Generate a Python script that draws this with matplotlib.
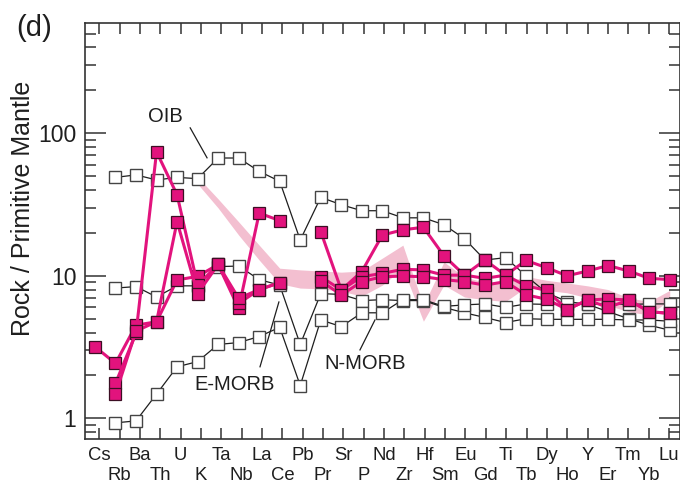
import numpy as np
import matplotlib
matplotlib.use("Agg")
import matplotlib.pyplot as plt
from matplotlib.ticker import LogLocator, NullFormatter, FixedLocator, FixedFormatter

plt.rcParams['font.family'] = ['Liberation Sans', 'DejaVu Sans']

# Element order of the spider diagram
elements = ["Cs", "Rb", "Ba", "Th", "U", "K", "Ta", "Nb", "La", "Ce", "Pb", "Pr",
            "Sr", "P", "Nd", "Zr", "Hf", "Sm", "Eu", "Gd", "Ti", "Tb", "Dy", "Ho",
            "Y", "Er", "Tm", "Yb", "Lu"]

# Reference compositions (Rb .. Lu), normalised to primitive mantle
oib = [49, 51, 47, 49, 48, 67, 67, 54, 46, 17.8, 35.5, 31.5, 28.6, 28.6, 25.5,
       25.5, 22.8, 18.2, 12.9, 13.4, 10.0, 7.6, 6.6, 6.3, 5.6, 5.0, 4.5, 4.15]
emorb = [8.2, 8.4, 7.1, 8.5, 8.5, 11.6, 11.7, 9.4, 8.6, 3.3, 7.5, 7.4, 6.7, 6.8,
         6.7, 6.7, 6.0, 5.5, 5.1, 4.7, 5.0, 4.95, 4.95, 4.95, 4.95, 4.9, 4.9, 4.8]
nmorb = [0.93, 0.96, 1.48, 2.3, 2.5, 3.3, 3.4, 3.75, 4.35, 1.7, 4.9, 4.4, 5.5,
         5.5, 6.8, 6.8, 6.1, 6.25, 6.35, 6.0, 6.35, 6.3, 6.3, 6.3, 6.35, 6.3,
         6.35, 6.35]

# Samples (Cs .. Lu); Pb not analysed
nan = np.nan
sample_1 = [3.18, 2.43, 4.5, 4.76, 9.35, 9.9, 12.0, 5.9, 27.5, 24.4, nan, 20.4,
            7.95, 10.7, 19.3, 21.0, 21.9, 13.8, 10.1, 12.9, 10.1, 12.8, 11.4,
            10.0, 10.8, 11.8, 10.8, 9.6, 9.4]
sample_2 = [nan, 1.76, 3.95, 74, 37, 8.6, 12.0, 6.4, 8.0, 8.95, nan, 9.85,
            7.95, 9.85, 10.4, 11.1, 11.0, 10.1, 10.1, 9.6, 10.1, 8.5, 7.9,
            5.8, 6.76, 6.88, 6.76, 5.6, 5.45]
sample_3 = [nan, 1.48, 4.1, 4.76, 24, 7.5, 12.0, 6.95, 8.0, 8.95, nan, 9.2,
            7.35, 9.1, 9.85, 9.95, 9.85, 9.4, 9.1, 8.6, 9.1, 7.35, 6.85,
            5.8, 6.76, 6.0, 6.76, 5.6, 5.45]
samples = [sample_1, sample_2, sample_3]

# Shaded field (K .. Lu)
field_upper = [49.4, 34.6, 23.9, 16.4, 11.3, 11.0, 10.8, 10.6, 10.8, 13.3, 16.4,
               6.2, 12.5, 9.8, 9.0, 9.0, 9.9, 9.3, 8.9, 8.5, 8.0, 7.0, 6.6, 7.9]
field_lower = [44.1, 29.9, 19.3, 12.9, 8.8, 8.2, 8.1, 7.8, 7.2, 8.6, 11.3,
               4.8, 8.6, 7.1, 6.8, 6.6, 8.3, 7.9, 7.6, 7.0, 6.2, 5.6, 5.3, 6.8]

pink = "#e2137d"
pink_edge = "#3c0f24"
field_col = "#f3bfd0"
ink = "#1e1e1e"

W, H = 680, 488
fig = plt.figure(figsize=(W / 100, H / 100), dpi=100)
ax_bottom, ax_top = 438.7, 23.3
ax = fig.add_axes([84.7 / W, (H - ax_bottom) / H, (W - 84.7) / W, (ax_bottom - ax_top) / H])

x = np.arange(len(elements))
ax.set_yscale("log")
ax.set_xlim(-0.5, 28.5)
ax.set_ylim(0.72, 590)

ax.fill_between(x[5:], field_lower, field_upper, color=field_col, lw=0, zorder=1)

for ref in (oib, emorb, nmorb):
    ax.plot(x[1:], ref, color=ink, lw=0.9, marker="s", ms=8.3, mfc="white",
            mec="#444444", mew=1.0, zorder=2)

for s in samples:
    ax.plot(x, s, color=pink, lw=2.2, marker="s", ms=8.5, mfc=pink,
            mec=pink_edge, mew=0.9, zorder=3)

# Axes frame and ticks
for sp in ax.spines.values():
    sp.set_linewidth(1.2)
    sp.set_color("#333333")

ax.yaxis.set_major_locator(FixedLocator([1, 10, 100]))
ax.yaxis.set_major_formatter(FixedFormatter(["1", "10", "100"]))
ax.yaxis.set_minor_locator(LogLocator(base=10, subs=np.arange(2, 10), numticks=12))
ax.yaxis.set_minor_formatter(NullFormatter())
ax.tick_params(axis="y", which="major", direction="in", length=15, width=1.1,
               left=True, right=True, labelsize=16.5, pad=6, colors="#333333",
               labelcolor=ink)
ax.tick_params(axis="y", which="minor", direction="in", length=7.7, width=1.1,
               left=True, right=True, colors="#333333")

# Element ticks, labels staggered on two rows
tick_pos = np.linspace(0.21, 27.96, len(elements))
ax.set_xticks(tick_pos)
ax.set_xticklabels([])
ax.tick_params(axis="x", which="major", direction="in", length=8, width=1.1,
               top=True, bottom=True, colors="#333333")
ax.tick_params(axis="x", which="minor", bottom=False, top=False)
row_y = [-(460.5 - ax_bottom) / (ax_bottom - ax_top), -(480.5 - ax_bottom) / (ax_bottom - ax_top)]
for i, (pos, name) in enumerate(zip(tick_pos, elements)):
    ax.text(pos, row_y[i % 2], name, transform=ax.get_xaxis_transform(),
            ha="center", va="baseline", fontsize=13.3, color=ink)

# Labels of the reference compositions
ax.text(3.41, 130, "OIB", fontsize=14.5, ha="center", va="center", color=ink)
ax.plot([4.64, 5.46], [109, 67.2], color=ink, lw=0.9, zorder=2)
ax.text(6.82, 1.74, "E-MORB", fontsize=14.5, ha="center", va="center", color=ink)
ax.plot([8.04, 8.96], [2.30, 6.55], color=ink, lw=0.9, zorder=2)
ax.text(13.15, 2.41, "N-MORB", fontsize=14.5, ha="center", va="center", color=ink)
ax.plot([12.91, 13.64], [3.02, 4.9], color=ink, lw=0.9, zorder=2)

fig.text(34 / W, 1 - 28.5 / H, "(d)", fontsize=21, ha="center", va="center", color=ink)
fig.text(23 / W, 1 - 208 / H, "Rock / Primitive Mantle", rotation=90, fontsize=18,
         ha="center", va="center", color=ink)

fig.savefig("out.png", dpi=100)
